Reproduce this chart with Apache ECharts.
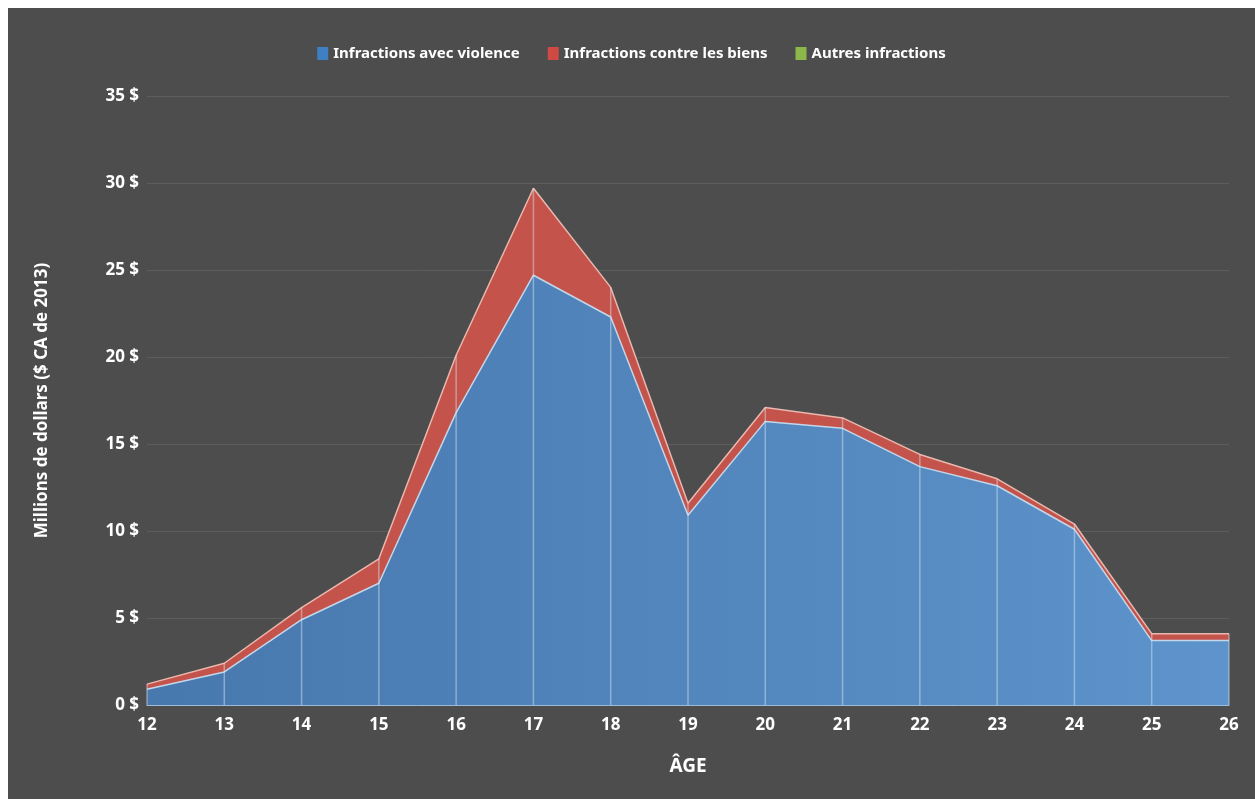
<!DOCTYPE html>
<html>
<head>
<meta charset="utf-8">
<script src="https://cdn.jsdelivr.net/npm/echarts@6/dist/echarts.min.js"></script>
<style>
  html, body { margin: 0; padding: 0; background: #ffffff; }
  #main { position: absolute; left: 8px; top: 8px; width: 1247px; height: 791px; background: #4d4d4d; }
</style>
</head>
<body>
<div id="main"></div>
<script>
// ages on the x axis
const ages = ['12', '13', '14', '15', '16', '17', '18', '19', '20', '21', '22', '23', '24', '25', '26'];
// millions de dollars
const violence = [0.9, 1.9, 4.9, 7.0, 16.8, 24.7, 22.3, 10.9, 16.3, 15.9, 13.7, 12.6, 10.1, 3.7, 3.7];
const biens = [0.3, 0.5, 0.7, 1.4, 3.3, 5.0, 1.7, 0.7, 0.8, 0.6, 0.7, 0.4, 0.3, 0.4, 0.4];
const autres = [0, 0, 0, 0, 0, 0, 0, 0, 0, 0, 0, 0, 0, 0, 0];
const yTicks = [0, 5, 10, 15, 20, 25, 30, 35];

const totals = violence.map((v, i) => +(v + biens[i] + autres[i]).toFixed(2));
const font = '"Noto Sans", "Open Sans", sans-serif';

var myChart = echarts.init(document.getElementById('main'));
myChart.setOption({
  backgroundColor: '#4d4d4d',
  textStyle: {fontFamily: font},
  legend: {
    data: ['Infractions avec violence', 'Infractions contre les biens', 'Autres infractions'],
    top: 33,
    left: 'center',
    itemWidth: 11,
    itemHeight: 13,
    itemGap: 28,
    icon: 'rect',
    textStyle: {color: '#ffffff', fontSize: 15, fontWeight: 'bold', fontFamily: font}
  },
  grid: {left: 139, right: 26, top: 88, bottom: 94},
  xAxis: {
    type: 'category',
    boundaryGap: false,
    data: ages,
    name: 'ÂGE',
    nameLocation: 'middle',
    nameGap: 52,
    nameTextStyle: {color: '#ffffff', fontSize: 19, fontWeight: 'bold'},
    axisLine: {show: true, lineStyle: {color: '#9dbbd9', width: 1}},
    axisTick: {show: false},
    axisLabel: {color: '#ffffff', fontSize: 17, fontWeight: 'bold', margin: 12},
    splitLine: {show: false}
  },
  yAxis: {
    type: 'value',
    min: yTicks[0],
    max: yTicks[yTicks.length - 1],
    interval: 5,
    name: 'Millions de dollars ($ CA de 2013)',
    nameLocation: 'middle',
    nameGap: 96,
    nameRotate: 90,
    nameTextStyle: {color: '#ffffff', fontSize: 17, fontWeight: 'bold'},
    axisLine: {show: false},
    axisTick: {show: false},
    axisLabel: {color: '#ffffff', fontSize: 17, fontWeight: 'bold', margin: 8, formatter: '{value} $'},
    splitLine: {lineStyle: {color: '#5e5e5e', width: 1}}
  },
  series: [
    {
      name: 'Infractions avec violence',
      type: 'line',
      stack: 'total',
      data: violence,
      symbol: 'none',
      itemStyle: {color: '#3f7fc4'},
      lineStyle: {color: '#c3d6ea', width: 1.5},
      areaStyle: {
        opacity: 1,
        color: new echarts.graphic.LinearGradient(0, 0, 1, 0, [
          {offset: 0, color: '#4778ae'},
          {offset: 1, color: '#5d94cb'}
        ])
      },
      z: 3
    },
    {
      name: 'Infractions contre les biens',
      type: 'line',
      stack: 'total',
      data: biens,
      symbol: 'none',
      itemStyle: {color: '#d04a45'},
      lineStyle: {color: '#e9b7ae', width: 1.5},
      areaStyle: {opacity: 1, color: '#c4544b'},
      z: 2
    },
    {
      name: 'Autres infractions',
      type: 'line',
      stack: 'total',
      data: autres,
      symbol: 'none',
      itemStyle: {color: '#8cb84a'},
      lineStyle: {opacity: 0},
      areaStyle: {opacity: 1, color: '#8cb84a'},
      z: 1
    },
    {
      name: 'drop',
      type: 'bar',
      data: totals,
      barWidth: 1.5,
      itemStyle: {color: 'rgba(220,232,245,0.45)'},
      silent: true,
      z: 4
    }
  ]
});
</script>
</body>
</html>
